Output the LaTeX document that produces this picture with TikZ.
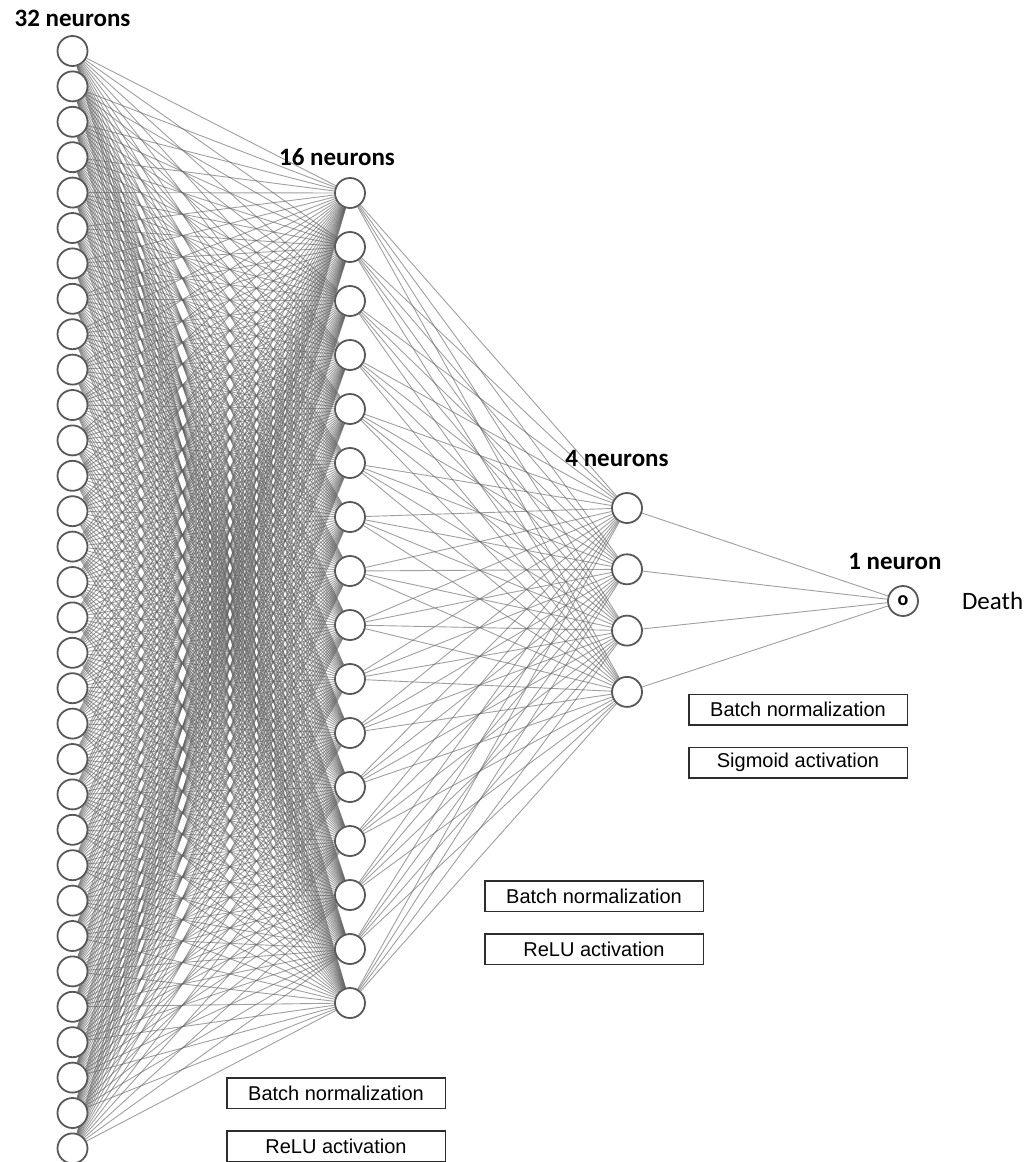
\documentclass[tikz,border=0pt]{standalone}
\usepackage{fontspec}
\setmainfont{Carlito}
\newfontfamily\arialfont{Liberation Sans}
\usepackage{tikz}
\usetikzlibrary{positioning,backgrounds}
\definecolor{neurongray}{RGB}{88,88,88}
\definecolor{wiregray}{RGB}{95,95,95}
\definecolor{boxgray}{RGB}{45,45,45}

\begin{document}
\begin{tikzpicture}[x=1pt,y=-1pt,
    neuron/.style={circle,draw=neurongray,line width=1.8pt,fill=white,minimum size=30pt,inner sep=0pt},
    wire/.style={draw=wiregray,draw opacity=0.6,line width=0.9pt},
    layerlabel/.style={font=\fontsize{25}{30}\selectfont\bfseries,inner sep=0pt},
    opbox/.style={rectangle,draw=boxgray,line width=1.5pt,minimum width=218.5pt,minimum height=30.5pt,
        inner sep=0pt,font=\arialfont\fontsize{20}{24}\selectfont}]

    \useasboundingbox (0,0) rectangle (1029,1162);

    % Input layer
    \foreach \i in {1,...,32}
        \node[neuron] (in\i) at (72.5,{51+(\i-1)*35.4}) {};

    % First hidden layer
    \foreach \j in {1,...,16}
        \node[neuron] (hid\j) at (350,{193+(\j-1)*54}) {};

    % Second hidden layer
    \foreach \k in {1,...,4}
        \node[neuron] (sec\k) at (627,{508+(\k-1)*61.3}) {};

    % Output
    \node[neuron] (out) at (903,601) {\fontsize{20}{22}\selectfont\bfseries o};
    \node[inner sep=0pt,font=\fontsize{25}{30}\selectfont,right=43pt of out] (death) {Death};

    % Connections
    \begin{scope}[on background layer]
        \foreach \i in {1,...,32}
            \foreach \j in {1,...,16}
                \draw[wire] (in\i) -- (hid\j);
        \foreach \j in {1,...,16}
            \foreach \k in {1,...,4}
                \draw[wire] (hid\j) -- (sec\k);
        \foreach \k in {1,...,4}
            \draw[wire] (sec\k) -- (out);
    \end{scope}

    % Layer labels
    \node[layerlabel,above=8pt of in1] (lab1) {32 neurons};
    \node[layerlabel,above=11pt of hid1,xshift=-13pt] (lab2) {16 neurons};
    \node[layerlabel,above=25pt of sec1,xshift=-10pt] (lab3) {4 neurons};
    \node[layerlabel,above=15pt of out,xshift=-8pt] (lab4) {1 neuron};

    % Operations
    \node[opbox] (bn1) at (336,1093) {Batch normalization};
    \node[opbox,below=21pt of bn1] (act1) {ReLU activation};
    \node[opbox] (bn2) at (594,896) {Batch normalization};
    \node[opbox,below=21pt of bn2] (act2) {ReLU activation};
    \node[opbox] (bn3) at (798,709.5) {Batch normalization};
    \node[opbox,below=21pt of bn3] (act3) {Sigmoid activation};

\end{tikzpicture}
\end{document}
